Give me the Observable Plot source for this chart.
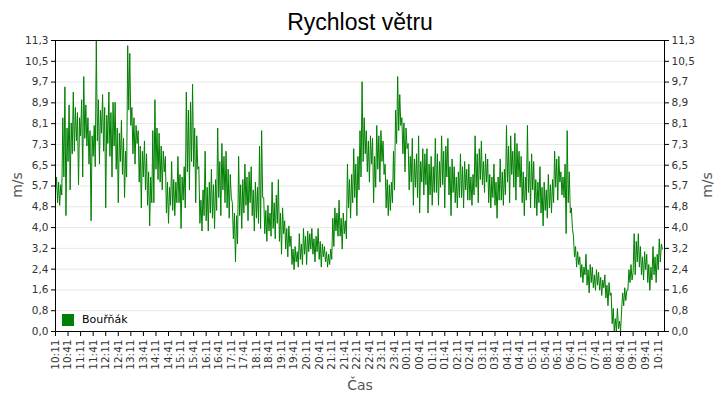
<!DOCTYPE html>
<html>
<head>
<meta charset="utf-8">
<script src="https://cdn.jsdelivr.net/npm/d3@7"></script>
<script src="https://cdn.jsdelivr.net/npm/@observablehq/plot@0.6"></script>
<style>
  body { margin: 0; background: #fff; }
  #wrap { position: relative; width: 720px; height: 400px; overflow: hidden; }
  #title { position: absolute; left: 0; top: 9px; width: 720px; text-align: center; font: 23px "Liberation Sans", Arial, sans-serif; color: #000; line-height: 26px; white-space: nowrap; }
  #chart { padding-top: 26px; }
  #chart svg { display: block; }
  #legend { position: absolute; left: 62px; top: 313px; font: 11px "DejaVu Sans", sans-serif; color: #000; display: flex; align-items: center; }
  #legend .sw { width: 12px; height: 12px; background: #008000; margin-right: 8px; }
</style>
</head>
<body>
<div id="wrap">
  <div id="chart"></div>
  <div id="title">Rychlost větru</div>
  <div id="legend"><div class="sw"></div><span>Bouřňák</span></div>
</div>
<script>
// ---- data ----
const seriesName = "Bouřňák";
const startLabel = "10:11";
const stepMinutes = 2.5;
const windSpeed = [
  5.4, 6.0, 5.0, 5.8, 4.9, 5.7, 5.3,
  8.3, 6.0, 9.5, 4.5, 7.9, 6.6,
  8.8, 5.5, 8.1, 6.9, 9.3, 7.0,
  8.7, 7.4, 8.5, 5.7, 8.3, 7.6,
  9.0, 6.0, 9.9, 7.5, 8.8, 7.2,
  8.3, 6.5, 7.8, 4.3, 7.6, 6.8, 8.0, 6.4,
  11.3, 7.4, 9.0, 6.5, 8.6, 7.7,
  9.2, 7.0, 8.7, 4.8, 8.4, 7.3,
  9.3, 6.8, 8.5, 6.0, 8.9, 7.2,
  8.9, 6.3, 7.9, 5.0, 7.7, 6.6, 8.2, 6.1,
  7.5, 5.2, 7.0, 6.0,
  11.1, 8.6, 10.8, 8.0,
  8.7, 6.9, 8.3, 6.5, 8.0, 7.3,
  7.8, 5.8, 7.2, 4.8, 7.0, 6.0, 7.4, 5.5,
  6.9, 4.9, 6.2, 4.1, 6.0, 5.0,
  7.8, 5.0, 9.0, 6.3, 7.9, 5.9,
  7.7, 5.8, 7.2, 5.5, 7.0, 6.2,
  6.8, 4.6, 5.8, 4.2, 5.6, 4.9,
  6.6, 4.7, 5.9, 4.5, 5.8, 5.0,
  6.8, 5.0, 6.1, 4.0, 6.0, 5.1, 6.4, 4.8,
  9.3, 6.2, 8.6, 5.5, 8.9, 6.6,
  9.6, 6.4, 7.9, 5.0, 7.6, 6.3,
  6.4, 4.2, 5.1, 3.9, 5.5, 4.5,
  7.0, 4.3, 5.6, 3.9, 5.8, 4.6,
  6.3, 4.4, 5.7, 4.0, 5.9, 4.7,
  7.9, 5.2, 6.6, 4.5, 7.3, 5.5, 6.8, 5.0,
  7.0, 4.8, 6.3, 4.4, 6.1, 5.2,
  5.0, 3.6, 4.6, 2.7, 4.5, 3.4,
  6.8, 4.5, 5.7, 4.0, 5.9, 4.6,
  6.5, 4.9, 6.0, 4.3, 6.2, 5.0,
  6.4, 4.5, 5.5, 3.9, 5.8, 4.4, 5.6, 4.2,
  7.2, 4.0, 7.8, 5.2,
  5.2, 3.8, 4.7, 3.5, 4.9, 3.9, 4.6, 3.7,
  5.8, 4.0, 5.0, 3.6, 5.3, 4.2,
  5.9, 3.5, 4.6, 3.0, 4.8, 3.8,
  4.3, 3.2, 4.0, 2.9, 4.1, 3.3,
  3.7, 2.6, 3.2, 2.4, 3.3, 2.7, 3.1, 2.5,
  3.8, 2.8, 3.4, 2.6,
  4.0, 3.0, 3.7, 2.6, 3.9, 3.1, 3.8, 3.2,
  4.0, 3.0, 3.6, 2.7, 3.7, 3.1,
  4.0, 2.8, 3.5, 2.5, 3.4, 2.9,
  3.3, 2.7, 3.1, 2.5, 3.0, 2.6, 3.2, 2.8,
  4.4, 3.3, 4.8, 3.9, 4.6, 3.7,
  5.1, 3.7, 4.4, 3.2, 4.6, 3.8, 4.3, 3.6,
  6.5, 4.8, 5.9, 4.4, 6.1, 5.0,
  7.1, 5.2, 6.5, 4.5, 6.8, 5.5,
  7.8, 6.0, 9.7, 6.6, 8.3, 6.9,
  7.8, 6.2, 7.4, 5.8, 7.6, 6.5,
  7.5, 5.0, 6.8, 5.6,
  8.0, 6.3, 7.6, 5.8, 7.8, 6.6, 7.4, 6.1,
  6.5, 4.8, 5.9, 4.5, 5.7, 4.7, 5.8, 5.0,
  7.0, 5.5,
  8.6, 7.3, 9.9, 7.8, 9.2, 8.0,
  8.3, 6.9, 8.1, 6.2, 7.9, 7.1,
  7.3, 5.5, 6.8, 5.8, 7.5, 4.9, 6.7, 5.6, 6.9, 5.2, 7.6, 4.6, 6.6, 5.8, 7.1, 5.3, 6.9, 5.7,
  7.1, 4.6, 6.5, 5.3, 6.8, 4.9, 6.4, 5.4,
  7.5, 5.4, 6.9, 4.9, 6.6, 5.6,
  7.6, 5.7, 7.0, 4.8, 7.2, 6.0,
  7.5, 5.3, 6.4, 4.5, 6.7, 5.4,
  6.4, 5.0, 6.0, 4.8, 6.2, 5.2,
  6.9, 5.2, 6.4, 4.8, 6.6, 5.5, 6.3, 5.1,
  6.5, 5.1, 6.0, 4.9, 6.1, 5.3,
  7.6, 5.6, 6.9, 5.0, 7.1, 5.9,
  7.4, 5.7, 6.6, 5.4, 6.9, 5.8,
  6.7, 5.0, 6.1, 4.8, 6.0, 5.2,
  6.5, 4.9, 5.8, 4.4, 6.0, 5.1,
  6.7, 5.1, 6.2, 4.9, 6.3, 5.3,
  8.0, 5.8, 7.2, 5.0, 7.6, 6.1, 7.0, 5.6, 7.7, 5.1, 7.3, 6.0, 7.0, 5.6,
  6.8, 5.0, 6.2, 4.5, 6.0, 5.1,
  8.0, 5.4, 6.6, 4.8, 6.9, 5.5,
  6.6, 4.8, 5.9, 4.5, 5.8, 5.0,
  6.4, 4.6, 5.6, 4.1, 5.8, 4.7, 5.5, 4.4,
  6.1, 4.8, 5.7, 4.6, 5.9, 5.0,
  7.0, 5.6, 6.7, 5.1, 6.8, 5.8,
  6.2, 5.3, 6.0, 5.2,
  6.5, 3.8, 7.8, 5.0, 6.2, 4.6,
  4.8, 4.0,
  3.7, 2.9, 3.3, 2.5, 3.1, 2.6,
  2.9, 2.1, 2.6, 1.9, 2.5, 2.2,
  3.0, 1.8, 2.4, 1.5, 2.6, 1.9,
  2.5, 1.7, 2.2, 1.6, 2.4, 1.8,
  2.3, 1.6, 2.1, 1.4, 2.0, 1.7,
  2.2, 1.3, 1.8, 1.0, 1.9, 1.4,
  1.5, 0.3, 0.9, 0.0,
  0.5, 0.0, 0.9, 0.1, 0.4, 0.0,
  0.8, 1.5, 1.0, 1.7, 1.2, 1.6,
  1.6, 2.4, 1.9, 2.6, 2.0, 2.3,
  3.8, 2.2, 3.5, 2.7, 3.8, 2.5,
  3.3, 2.2, 2.9, 2.0, 3.1, 2.4,
  3.0, 1.9, 2.6, 1.6, 2.5, 2.0,
  3.3, 2.2, 2.9, 1.9, 3.0, 2.4,
  3.6, 2.7, 3.4, 3.2
];
const xTickLabels = ["10:11","10:41","11:11","11:41","12:11","12:41","13:11","13:41","14:11","14:41",
  "15:11","15:41","16:11","16:41","17:11","17:41","18:11","18:41","19:11","19:41",
  "20:11","20:41","21:11","21:41","22:11","22:41","23:11","23:41","00:11","00:41",
  "01:11","01:41","02:11","02:41","03:11","03:41","04:11","04:41","05:11","05:41",
  "06:11","06:41","07:11","07:41","08:11","08:41","09:11","09:41","10:11"];
const yTickLabels = ["0,0","0,8","1,6","2,4","3,2","4,0","4,8","5,7","6,5","7,3","8,1","8,9","9,7","10,5","11,3"];
const yMax = 11.3;
const endMinutes = 1455;

// ---- build ----
const [sh, sm] = startLabel.split(":").map(Number);
const t0 = Date.UTC(2020, 0, 1, sh, sm);
const data = windSpeed.map((v, i) => ({ t: new Date(t0 + i * stepMinutes * 60000), v }));
const xTicks = xTickLabels.map((s, k) => new Date(t0 + k * 30 * 60000));
const yTicks = yTickLabels.map((s, k) => k * yMax / (yTickLabels.length - 1));
const xFmt = d => xTickLabels[Math.round((d - t0) / 1800000)];
const yFmt = d => yTickLabels[Math.round(d / (yMax / (yTickLabels.length - 1)))];

const chart = Plot.plot({
  width: 720,
  height: 374,
  marginLeft: 55,
  marginRight: 56,
  marginTop: 14,
  marginBottom: 69,
  style: { fontFamily: "DejaVu Sans, sans-serif", fontSize: "10.5px", color: "#333", background: "#fff" },
  x: { type: "utc", domain: [new Date(t0), new Date(t0 + endMinutes * 60000)] },
  y: { domain: [0, yMax] },
  marks: [
    Plot.gridY(yTicks, { stroke: "#e8e8e8", strokeOpacity: 1 }),
    Plot.line(data, { x: "t", y: "v", stroke: "#008000", strokeWidth: 1 }),
    Plot.axisY(yTicks, { anchor: "left", tickFormat: yFmt, tickSize: 4, tickPadding: 3, stroke: "#000", label: null, fill: "#333" }),
    Plot.axisY(yTicks, { anchor: "right", tickFormat: yFmt, tickSize: 4, tickPadding: 3, stroke: "#000", label: null, fill: "#333" }),
    Plot.axisX(xTicks, { tickFormat: xFmt, tickRotate: -90, tickSize: 5, tickPadding: 3, stroke: "#000", fill: "#333", label: null }),
    Plot.frame({ stroke: "#000" })
  ]
});
document.getElementById("chart").appendChild(chart);

// axis titles
const svg = d3.select(chart);
const addTitle = (x, y, rot, txt) => svg.append("text")
  .attr("transform", `translate(${x},${y})` + (rot ? " rotate(-90)" : ""))
  .attr("text-anchor", "middle")
  .attr("font-family", "DejaVu Sans, sans-serif").attr("font-size", 14).attr("fill", "#555").text(txt);
addTitle(22, 159, true, "m/s");
addTitle(712, 159, true, "m/s");
addTitle(360, 364, false, "Čas");
</script>
</body>
</html>
